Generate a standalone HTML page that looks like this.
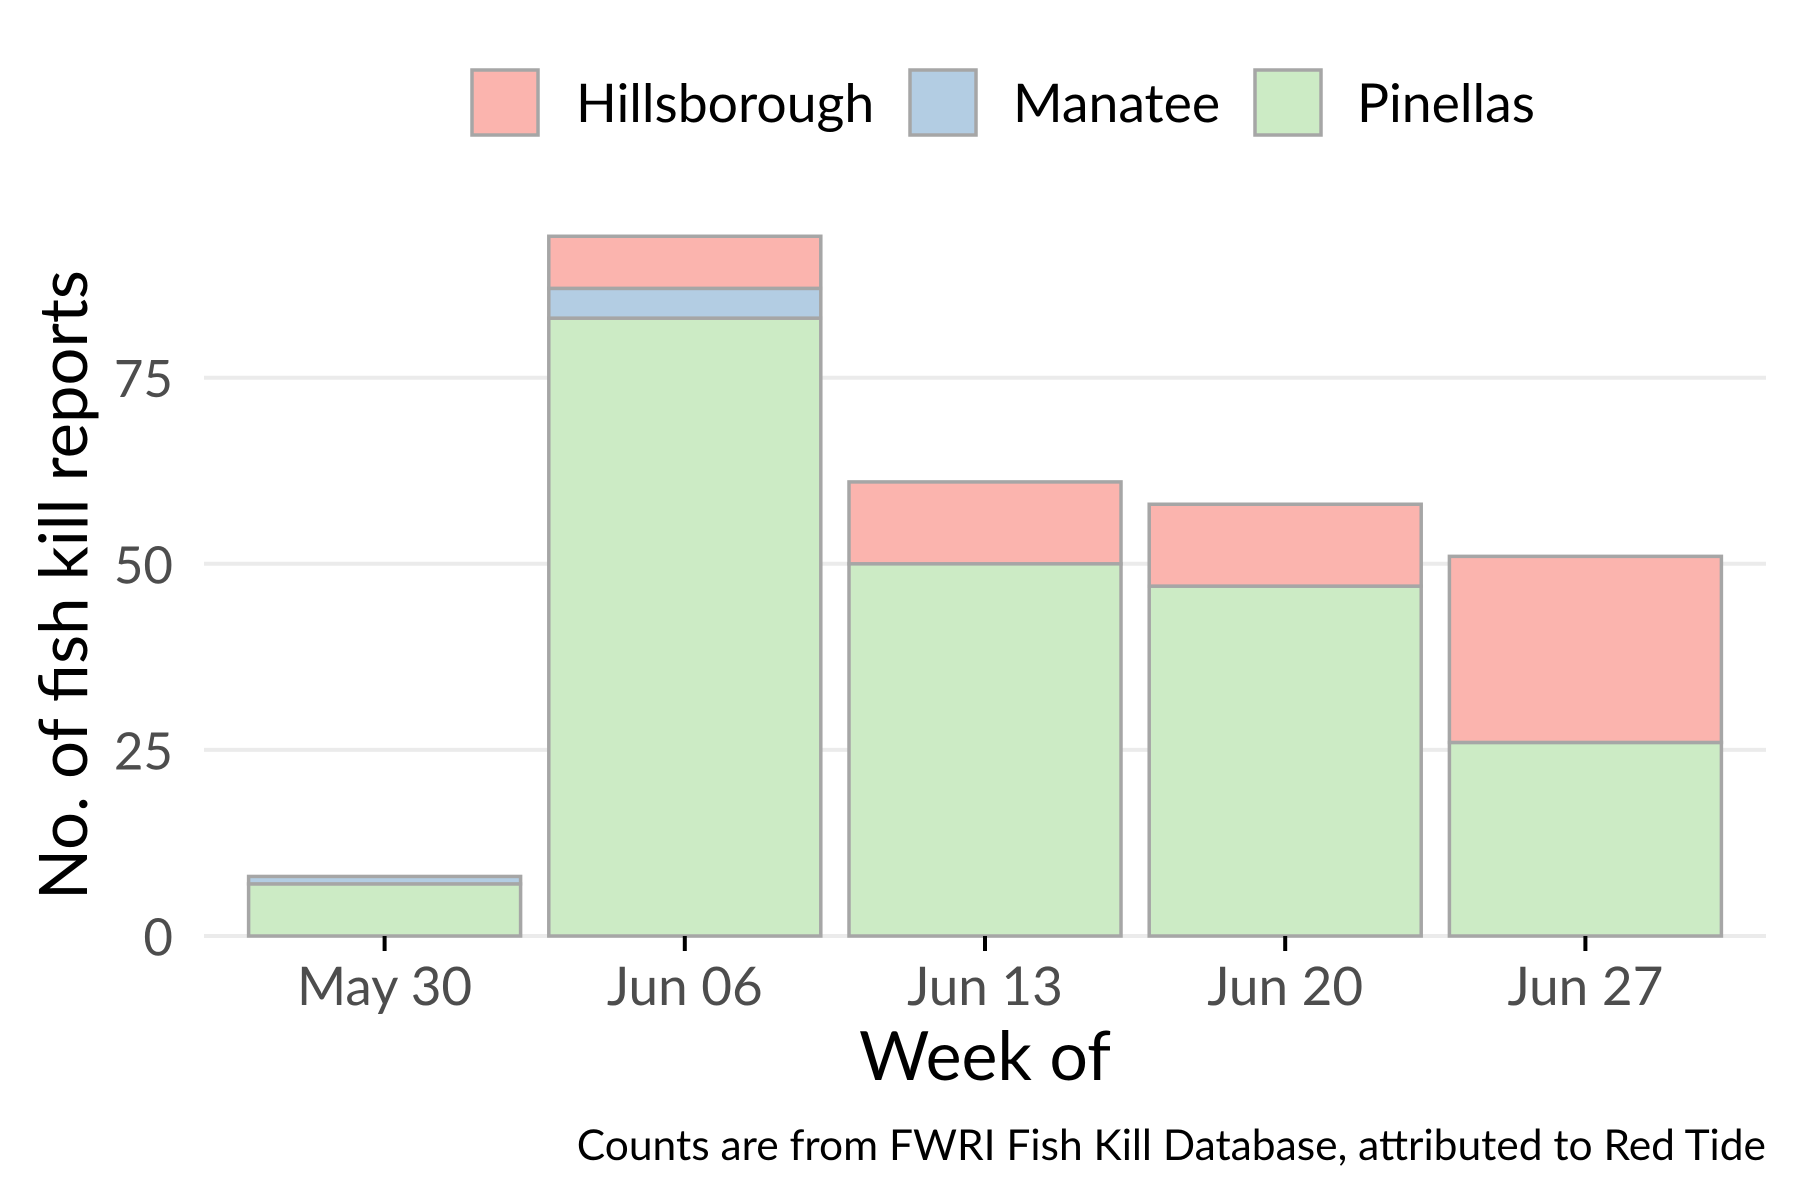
<!DOCTYPE html>
<html><head><meta charset="utf-8"><style>
body{margin:0;background:#fff}
svg{display:block;font-family:"Lato","Liberation Sans",sans-serif}
</style></head><body>
<svg id="chart" width="1800" height="1200" viewBox="0 0 1800 1200">
<g id="grid"></g>
<g id="bars"></g>
<g id="axes"></g>
<text x="62" y="585" transform="rotate(-90 62 585)" text-anchor="middle" dominant-baseline="central" font-size="67" fill="#000">No. of fish kill reports</text>
<text x="985" y="1080" text-anchor="middle" font-size="68" fill="#000">Week of</text>
<text x="1766" y="1160" text-anchor="end" font-size="42.5" fill="#000">Counts are from FWRI Fish Kill Database, attributed to Red Tide</text>
<g>
<g><rect x="472" y="70" width="66" height="65" fill="#fbb4ae" stroke="#a6a6a6" stroke-width="3.5"/><text x="576" y="122" font-size="53.5">Hillsborough</text></g>
<g><rect x="910" y="70" width="66" height="65" fill="#b3cde3" stroke="#a6a6a6" stroke-width="3.5"/><text x="1013" y="122" font-size="53.5">Manatee</text></g>
<g><rect x="1255" y="70" width="66" height="65" fill="#ccebc5" stroke="#a6a6a6" stroke-width="3.5"/><text x="1357" y="122" font-size="53.5">Pinellas</text></g>
</g>
</svg>
<script>
const categories = ["May 30","Jun 06","Jun 13","Jun 20","Jun 27"];
const pinellas = [7,83,50,47,26];
const manatee = [1,4,0,0,0];
const hillsborough = [0,7,11,11,25];
const yTicks = [0,25,50,75];
const seriesNames = ["pinellas","manatee","hillsborough"];
const seriesColors = ["#ccebc5","#b3cde3","#fbb4ae"];

const NS="http://www.w3.org/2000/svg";
const plotL=204, plotR=1766, y0=936, pxPerUnit=7.444;
const firstCenter=384.6, step=300.2, barW=272;
function yScale(v){return y0 - v*pxPerUnit;}
function xCenter(i){return firstCenter + step*i;}
function mk(tag,attrs,parent){const e=document.createElementNS(NS,tag);for(const k in attrs)e.setAttribute(k,attrs[k]);parent.appendChild(e);return e;}

const grid=document.getElementById('grid'), axes=document.getElementById('axes'), bars=document.getElementById('bars');
yTicks.forEach(t=>{
  const l=mk('line',{x1:plotL,x2:plotR,y1:yScale(t),y2:yScale(t),stroke:'#ebebeb','stroke-width':4},grid);
  
  
  const tx=mk('text',{x:173,y:yScale(t),'text-anchor':'end','dominant-baseline':'central','font-size':51,fill:'#4d4d4d'},axes);
  tx.textContent=t;
  
  
});
const series=[pinellas,manatee,hillsborough];
categories.forEach((c,i)=>{
  let cum=0;
  series.forEach((s,k)=>{
    const v=s[i]; if(!v) return;
    const r=mk('rect',{x:xCenter(i)-barW/2,y:yScale(cum+v),width:barW,height:v*pxPerUnit,fill:seriesColors[k],stroke:'#a6a6a6','stroke-width':3.5},bars);
    
    
    cum+=v;
  });
  const tk=mk('line',{x1:xCenter(i),x2:xCenter(i),y1:y0,y2:y0+15,stroke:'#000','stroke-width':4},axes);
  
  
  const tx=mk('text',{x:xCenter(i),y:1005,'text-anchor':'middle','font-size':53,fill:'#4d4d4d'},axes);
  tx.textContent=c;
  
  
});
</script>
</body></html>
